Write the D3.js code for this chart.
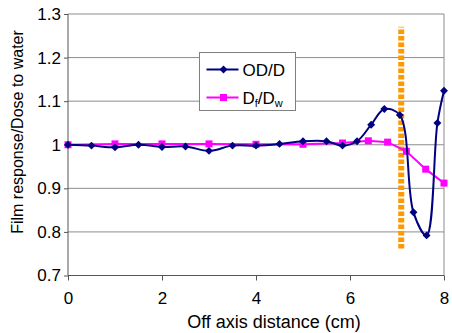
<!DOCTYPE html>
<html>
<head>
<meta charset="utf-8">
<script src="https://cdn.jsdelivr.net/npm/d3@7"></script>
<style>
    body { margin: 0; background: #fff; }
    svg { display: block; font-family: "Liberation Sans", Arial, sans-serif; }
    .grid line { stroke: #8c8c8c; stroke-width: 1; }
    .axis path, .axis line { stroke: #555; }
    .axis text { fill: #000; font-size: 17px; font-family: "Liberation Sans", Arial, sans-serif; }
</style>
</head>
<body>
<svg id="chart" width="452" height="333"></svg>
<script>
// Data
const odX = [0, 0.5, 1, 1.5, 2, 2.5, 3, 3.5, 4, 4.5, 5, 5.5, 5.84, 6.15, 6.45, 6.73, 7.06, 7.35, 7.63, 7.86, 8.0];
const odY = [1.0, 0.998, 0.994, 1.0, 0.995, 0.996, 0.986, 0.998, 0.998, 1.002, 1.008, 1.008, 0.998, 1.008, 1.046, 1.082, 1.068, 0.845, 0.792, 1.05, 1.124];

const dfX = [0, 1, 2, 3, 4, 5, 5.84, 6.39, 6.8, 7.2, 7.61, 8.0];
const dfY = [1.0, 1.002, 1.002, 1.002, 1.001, 1.001, 1.004, 1.009, 1.006, 0.985, 0.944, 0.912];

const markerX = [7.09, 7.09];
const markerY = [0.762, 1.271];

const xTicks = [0, 2, 4, 6, 8];
const yTicks = [0.7, 0.8, 0.9, 1.0, 1.1, 1.2, 1.3];

const svg = d3.select('#chart');
const margin = { top: 14, right: 8, bottom: 57.5, left: 68 };
const width = 452 - margin.left - margin.right;
const height = 333 - margin.top - margin.bottom;

const g = svg.append('g')
    .attr('transform', `translate(${margin.left},${margin.top})`);

// Scales
const xScale = d3.scaleLinear().domain([0, 8]).range([0, width]);
const yScale = d3.scaleLinear().domain([0.7, 1.3]).range([height, 0]);

// Grid
g.append('g').attr('class', 'grid')
    .selectAll('line')
    .data(yTicks.slice(1))
    .join('line')
    .attr('x1', 0).attr('x2', width)
    .attr('y1', d => yScale(d)).attr('y2', d => yScale(d));

// Right frame
g.append('line')
    .attr('x1', width).attr('x2', width)
    .attr('y1', 0).attr('y2', height)
    .attr('stroke', '#8c8c8c');

// Axes
const yAxis = d3.axisLeft(yScale).tickValues(yTicks).tickSize(4).tickPadding(3)
    .tickFormat(d => d === 1 ? '1' : d3.format('.1f')(d));
const xAxis = d3.axisBottom(xScale).tickValues(xTicks).tickSize(5).tickPadding(11)
    .tickFormat(d3.format('d'));

g.append('g').attr('class', 'axis y-axis').call(yAxis)
    .call(s => s.select('.domain').attr('d', `M0,0V${height}`));
g.append('g').attr('class', 'axis x-axis')
    .attr('transform', `translate(0,${height})`)
    .call(xAxis)
    .call(s => s.select('.domain').attr('d', `M0,0H${width}`));

// Axis titles
svg.append('text')
    .attr('x', 274)
    .attr('y', 328)
    .attr('text-anchor', 'middle')
    .attr('font-size', 18)
    .text('Off axis distance (cm)');

svg.append('text')
    .attr('transform', 'translate(23,132) rotate(-90)')
    .attr('text-anchor', 'middle')
    .attr('font-size', 16)
    .text('Film response/Dose to water');

// Orange dotted marker line
g.append('line')
    .attr('x1', xScale(markerX[0])).attr('x2', xScale(markerX[1]))
    .attr('y1', yScale(markerY[0])).attr('y2', yScale(markerY[1]))
    .attr('stroke', '#ff9900')
    .attr('stroke-width', 6)
    .attr('stroke-dasharray', '4.5,2');

// Df/Dw series (straight)
const dfData = dfX.map((x, i) => ({ x, y: dfY[i] }));
const odData = odX.map((x, i) => ({ x, y: odY[i] }));

const dfLine = d3.line().x(d => xScale(d.x)).y(d => yScale(d.y));
g.append('path')
    .datum(dfData)
    .attr('fill', 'none')
    .attr('stroke', '#ff00ff')
    .attr('stroke-width', 2)
    .attr('d', dfLine);

g.selectAll('.sq')
    .data(dfData)
    .join('rect')
    .attr('class', 'sq')
    .attr('x', d => xScale(d.x) - 3.5)
    .attr('y', d => yScale(d.y) - 3.5)
    .attr('width', 7).attr('height', 7)
    .attr('fill', '#ff00ff');

// OD/D series (smoothed)
const odLine = d3.line().x(d => xScale(d.x)).y(d => yScale(d.y))
    .curve(d3.curveCatmullRom.alpha(0.5));
g.append('path')
    .datum(odData)
    .attr('fill', 'none')
    .attr('stroke', '#000080')
    .attr('stroke-width', 2)
    .attr('d', odLine);

const diamond = d3.symbol().type(d3.symbolDiamond2).size(40);
g.selectAll('.dm')
    .data(odData)
    .join('path')
    .attr('class', 'dm')
    .attr('transform', d => `translate(${xScale(d.x)},${yScale(d.y)})`)
    .attr('d', diamond)
    .attr('fill', '#000080');

// Legend
const legend = svg.append('g').attr('transform', 'translate(199.5,52.5)');
legend.append('rect')
    .attr('width', 96).attr('height', 58)
    .attr('fill', '#fff')
    .attr('stroke', '#808080');

legend.append('line')
    .attr('x1', 7).attr('x2', 39).attr('y1', 17).attr('y2', 17)
    .attr('stroke', '#000080').attr('stroke-width', 2);
legend.append('path')
    .attr('transform', 'translate(24,17)')
    .attr('d', diamond)
    .attr('fill', '#000080');
legend.append('text')
    .attr('x', 43).attr('y', 23)
    .attr('font-size', 17)
    .text('OD/D');

legend.append('line')
    .attr('x1', 7).attr('x2', 39).attr('y1', 45).attr('y2', 45)
    .attr('stroke', '#ff00ff').attr('stroke-width', 2);
legend.append('rect')
    .attr('x', 20.5).attr('y', 41.5).attr('width', 7).attr('height', 7)
    .attr('fill', '#ff00ff');
const lt = legend.append('text')
    .attr('x', 43).attr('y', 51)
    .attr('font-size', 17);
lt.append('tspan').text('D');
lt.append('tspan').attr('font-size', 11).attr('dy', 3).text('f');
lt.append('tspan').attr('dy', -3).text('/D');
lt.append('tspan').attr('font-size', 11).attr('dy', 3).text('w');
</script>
</body>
</html>
